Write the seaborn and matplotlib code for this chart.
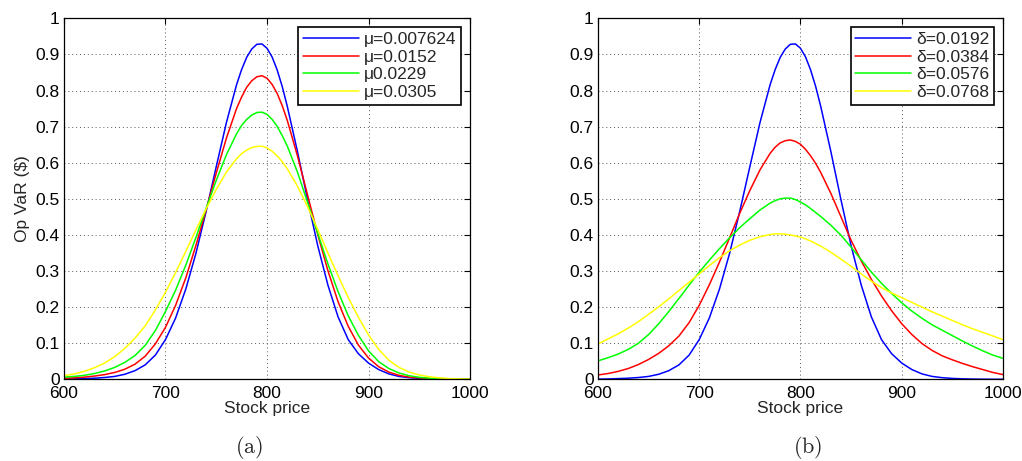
import numpy as np
import pandas as pd
import matplotlib
matplotlib.use("Agg")
import matplotlib.pyplot as plt
import seaborn as sns

# ---------------- data ----------------
# stock prices: step 10, with extra readings every 5 around the peaks
stock_price = [600, 610, 620, 630, 640, 650, 660, 670, 680, 690,
               700, 710, 720, 730, 740, 750, 760, 770,
               775, 780, 785, 790, 795, 800, 805, 810, 815,
               820, 830, 840, 850, 860, 870, 880, 890,
               900, 910, 920, 930, 940, 950, 960, 970, 980, 990, 1000]

# panel (a): varying mu
mu_labels = ["\u03bc=0.007624", "\u03bc=0.0152", "\u03bc0.0229", "\u03bc=0.0305"]
opvar_base = [0.0005, 0.001, 0.002, 0.003, 0.005, 0.008, 0.014, 0.024, 0.040, 0.067,
              0.110, 0.170, 0.250, 0.349, 0.465, 0.589, 0.711, 0.816,
              0.858, 0.892, 0.915, 0.928, 0.929, 0.917, 0.893, 0.857, 0.811,
              0.756, 0.631, 0.497, 0.370, 0.261, 0.173, 0.110, 0.071,
              0.045, 0.027, 0.015, 0.008, 0.0045, 0.0025, 0.0013, 0.0007, 0.0003, 0.0001, 0.0]
opvar_mu_0152 = [0.003, 0.004, 0.006, 0.009, 0.013, 0.019, 0.028, 0.042, 0.064, 0.098,
                 0.144, 0.205, 0.281, 0.371, 0.469, 0.571, 0.668, 0.750,
                 0.782, 0.809, 0.827, 0.838, 0.841, 0.834, 0.817, 0.792, 0.758,
                 0.717, 0.619, 0.510, 0.401, 0.301, 0.215, 0.147, 0.095,
                 0.059, 0.035, 0.020, 0.011, 0.006, 0.004, 0.002, 0.001, 0.0006, 0.0003, 0.0001]
opvar_mu_0229 = [0.006, 0.008, 0.011, 0.016, 0.023, 0.033, 0.047, 0.066, 0.094, 0.135,
                 0.188, 0.247, 0.316, 0.393, 0.473, 0.551, 0.622, 0.680,
                 0.703, 0.720, 0.732, 0.739, 0.740, 0.734, 0.720, 0.701, 0.675,
                 0.646, 0.574, 0.490, 0.404, 0.320, 0.243, 0.176, 0.122,
                 0.079, 0.049, 0.030, 0.0175, 0.010, 0.0055, 0.003, 0.0015, 0.0007, 0.0003, 0.0001]
opvar_mu_0305 = [0.010, 0.015, 0.022, 0.032, 0.045, 0.063, 0.086, 0.114, 0.148, 0.192,
                 0.241, 0.296, 0.354, 0.414, 0.472, 0.526, 0.574, 0.611,
                 0.625, 0.635, 0.642, 0.645, 0.646, 0.641, 0.632, 0.619, 0.603,
                 0.583, 0.535, 0.478, 0.415, 0.350, 0.287, 0.227, 0.172,
                 0.123, 0.083, 0.053, 0.033, 0.020, 0.012, 0.007, 0.004, 0.002, 0.001, 0.0005]

# panel (b): varying delta
delta_labels = ["\u03b4=0.0192", "\u03b4=0.0384", "\u03b4=0.0576", "\u03b4=0.0768"]
opvar_delta_0384 = [0.012, 0.016, 0.022, 0.030, 0.041, 0.055, 0.072, 0.093, 0.120, 0.157,
                    0.205, 0.262, 0.325, 0.392, 0.460, 0.523, 0.580, 0.626,
                    0.643, 0.655, 0.661, 0.663, 0.659, 0.651, 0.637, 0.619, 0.598,
                    0.573, 0.515, 0.450, 0.385, 0.328, 0.277, 0.231, 0.190,
                    0.154, 0.124, 0.099, 0.080, 0.065, 0.054, 0.044, 0.035, 0.027, 0.019, 0.013]
opvar_delta_0576 = [0.051, 0.060, 0.070, 0.083, 0.100, 0.124, 0.154, 0.188, 0.224, 0.261,
                    0.297, 0.330, 0.362, 0.392, 0.420, 0.445, 0.469, 0.488,
                    0.495, 0.500, 0.502, 0.502, 0.498, 0.491, 0.483, 0.473, 0.462,
                    0.451, 0.427, 0.399, 0.366, 0.331, 0.297, 0.266, 0.238,
                    0.212, 0.189, 0.169, 0.151, 0.136, 0.121, 0.106, 0.092, 0.079, 0.067, 0.058]
opvar_delta_0768 = [0.098, 0.112, 0.126, 0.142, 0.160, 0.180, 0.201, 0.223, 0.246, 0.269,
                    0.292, 0.315, 0.337, 0.356, 0.372, 0.385, 0.395, 0.401,
                    0.403, 0.403, 0.402, 0.400, 0.397, 0.394, 0.389, 0.383, 0.376,
                    0.369, 0.352, 0.333, 0.313, 0.292, 0.272, 0.254, 0.239,
                    0.226, 0.213, 0.200, 0.187, 0.175, 0.163, 0.151, 0.140, 0.130, 0.120, 0.110]

line_colors = ["#0000ff", "#ff0000", "#00ff00", "#ffff00"]
x_ticks = [600, 700, 800, 900, 1000]
y_ticks = [0, 0.1, 0.2, 0.3, 0.4, 0.5, 0.6, 0.7, 0.8, 0.9, 1.0]
y_ticklabels = ["0", "0.1", "0.2", "0.3", "0.4", "0.5", "0.6", "0.7", "0.8", "0.9", "1"]

# ---------------- style ----------------
sns.set_style("white")
plt.rcParams['font.family'] = ['Liberation Sans', 'DejaVu Sans']
plt.rcParams['mathtext.fontset'] = 'cm'

fig = plt.figure(figsize=(10.22, 4.61), dpi=100)
ax1 = fig.add_axes([0.0626, 0.1772, 0.3973, 0.7831])
ax2 = fig.add_axes([0.5851, 0.1772, 0.3963, 0.7831])

panels = [
    (ax1, [opvar_base, opvar_mu_0152, opvar_mu_0229, opvar_mu_0305], mu_labels),
    (ax2, [opvar_base, opvar_delta_0384, opvar_delta_0576, opvar_delta_0768], delta_labels),
]

for ax, series, labels in panels:
    for vals, lab, col in zip(series, labels, line_colors):
        df = pd.DataFrame({"price": stock_price, "opvar": vals})
        sns.lineplot(data=df, x="price", y="opvar", ax=ax, color=col,
                     linewidth=1.1, label=lab, estimator=None)
    ax.set_xlim(600, 1000)
    ax.set_ylim(0, 1)
    ax.set_xticks(x_ticks)
    ax.set_xticklabels([str(t) for t in x_ticks])
    ax.set_yticks(y_ticks)
    ax.set_yticklabels(y_ticklabels)
    ax.grid(True, linestyle=(0, (1, 3)), color="#555555", linewidth=0.7)
    ax.tick_params(direction="in", top=True, right=True, length=4, width=0.8,
                   labelsize=12.5, colors="black")
    ax.tick_params(axis="x", pad=5)
    ax.tick_params(axis="y", pad=3)
    for sp in ax.spines.values():
        sp.set_color("black")
        sp.set_linewidth(0.9)
    ax.set_xlabel("Stock price", fontsize=12.5, labelpad=0)
    ax.set_ylabel("")
    leg = ax.legend(loc="upper right", fontsize=12.5, frameon=True, fancybox=False,
                    edgecolor="black", framealpha=1, handlelength=3.2,
                    handletextpad=0.3, labelspacing=0.14, borderpad=0.28,
                    borderaxespad=0.5)
    leg.get_frame().set_linewidth(1.2)

ax1.set_ylabel("Op VaR ($)", fontsize=12.5, labelpad=4)

fig.text(249 / 1022, 1 - 447 / 461, r"$\mathrm{(a)}$", ha="center", va="center", fontsize=16)
fig.text(808 / 1022, 1 - 447 / 461, r"$\mathrm{(b)}$", ha="center", va="center", fontsize=16)

fig.savefig("out.png", dpi=100, facecolor="white")
